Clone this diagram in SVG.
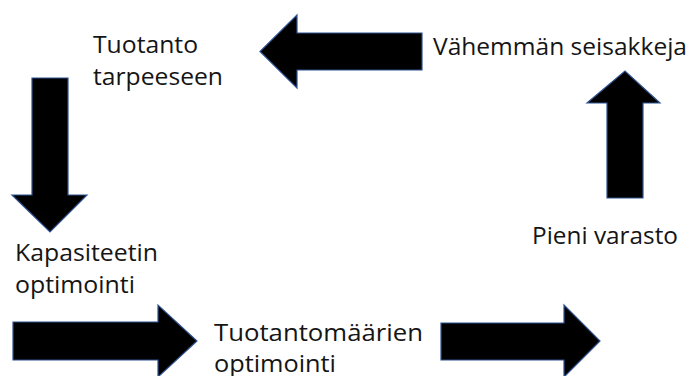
<svg xmlns="http://www.w3.org/2000/svg" width="690" height="376" viewBox="0 0 690 376">
  <style>
    .arrow { fill: #000; stroke: #2f528f; stroke-width: 1.2; stroke-linejoin: miter; }
    .label { font-family: "Open Sans", "Noto Sans", sans-serif; font-size: 24.5px; fill: #151515; }
  </style>
  <rect width="690" height="376" fill="#fff"/>

  <g id="connectors">
    <!-- top: pointing left -->
    <polygon class="arrow" points="422,33 297,33 297,15 260,51.5 297,88 297,70 422,70"/>
    <!-- left: pointing down -->
    <polygon class="arrow" points="32,78 68,78 68,195 87,195 50,232 12,195 32,195"/>
    <!-- bottom left: pointing right -->
    <polygon class="arrow" points="13,322 158,322 158,305 197,341 158,377 158,360 13,360"/>
    <!-- bottom right: pointing right -->
    <polygon class="arrow" points="441,323 564,323 564,305 600,341 564,377 564,360 441,360"/>
    <!-- right: pointing up -->
    <polygon class="arrow" points="607,198 607,103 587,103 625,71 660,103 643,103 643,198"/>
  </g>

  <g id="node-tuotanto-tarpeeseen">
    <text class="label" x="93" y="53" textLength="105" lengthAdjust="spacingAndGlyphs">Tuotanto</text>
    <text class="label" x="93" y="85" textLength="130" lengthAdjust="spacingAndGlyphs">tarpeeseen</text>
  </g>
  <g id="node-vahemman-seisakkeja">
    <text class="label" x="433" y="55" textLength="254" lengthAdjust="spacingAndGlyphs">Vähemmän seisakkeja</text>
  </g>
  <g id="node-pieni-varasto">
    <text class="label" x="532" y="244" textLength="146" lengthAdjust="spacingAndGlyphs">Pieni varasto</text>
  </g>
  <g id="node-kapasiteetin-optimointi">
    <text class="label" x="15" y="261" textLength="143" lengthAdjust="spacingAndGlyphs">Kapasiteetin</text>
    <text class="label" x="15" y="293" textLength="120" lengthAdjust="spacingAndGlyphs">optimointi</text>
  </g>
  <g id="node-tuotantomaarien-optimointi">
    <text class="label" x="214" y="341" textLength="209" lengthAdjust="spacingAndGlyphs">Tuotantomäärien</text>
    <text class="label" x="214" y="372" textLength="122" lengthAdjust="spacingAndGlyphs">optimointi</text>
  </g>
</svg>
